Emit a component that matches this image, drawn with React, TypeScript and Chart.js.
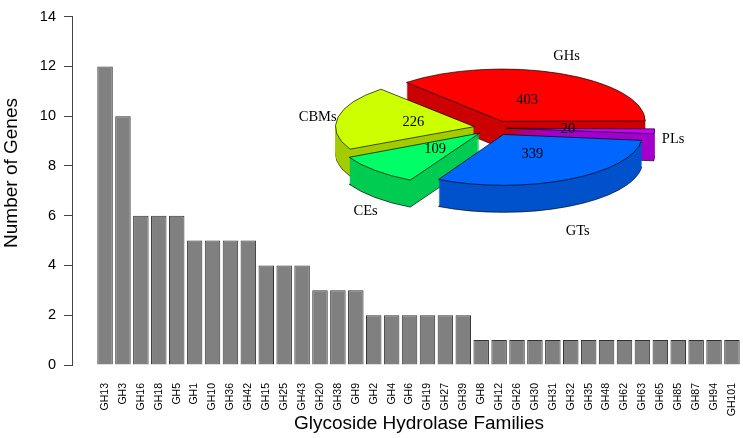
import { useEffect, useRef } from "react";
import { Chart, registerables } from "chart.js";

Chart.register(...registerables);

const families = [
  'GH13', 'GH3', 'GH16', 'GH18', 'GH5', 'GH1', 'GH10', 'GH36', 'GH42',
  'GH15', 'GH25', 'GH43', 'GH20', 'GH38', 'GH9', 'GH2', 'GH4', 'GH6',
  'GH19', 'GH27', 'GH39', 'GH8', 'GH12', 'GH26', 'GH30', 'GH31', 'GH32',
  'GH35', 'GH48', 'GH62', 'GH63', 'GH65', 'GH85', 'GH87', 'GH94', 'GH101'
];
const geneCounts = [
  12, 10, 6, 6, 6, 5, 5, 5, 5,
  4, 4, 4, 3, 3, 3, 2, 2, 2,
  2, 2, 2, 1, 1, 1, 1, 1, 1,
  1, 1, 1, 1, 1, 1, 1, 1, 1
];
const yTicks = [0, 2, 4, 6, 8, 10, 12, 14];

// pie slices, clockwise from 3 o'clock
const pieLabels = ['PLs', 'GTs', 'CEs', 'CBMs', 'GHs'];
const pieValues = [20, 339, 109, 226, 403];
const pieTopColors = ['#CC00FF', '#0066FF', '#00FF66', '#CCFF00', '#FF0000'];
const pieSideColors = ['#A300CC', '#0052CC', '#00CC52', '#A3CC00', '#CC0000'];

const PIE_CY = 128;
const PIE_SQUASH = 0.365;
const PIE_DEPTH = 27;

const yTitle = {
  id: 'yTitle',
  afterDraw(chart: any) {
    const ctx = chart.ctx;
    ctx.save();
    ctx.translate(12, 173);
    ctx.rotate(-Math.PI / 2);
    ctx.font = '19px "Liberation Sans"';
    ctx.fillStyle = '#000';
    ctx.textAlign = 'center';
    ctx.textBaseline = 'middle';
    ctx.fillText('Number of Genes', 0, 0);
    ctx.restore();
  }
};

const midSin = (arc: any) => Math.sin((arc.startAngle + arc.endAngle) / 2);

const pie3d = {
  id: 'pie3d',
  beforeDatasetsDraw(chart: any) {
    const ctx = chart.ctx;
    const arcs = chart.getDatasetMeta(0).data as any[];
    if (!arcs.length) return false;
    const cy = arcs[0].y;
    const order = arcs.map((_, i) => i).sort((a, b) => midSin(arcs[a]) - midSin(arcs[b]));
    const squash = (dy: number) => {
      ctx.translate(0, PIE_CY + dy);
      ctx.scale(1, PIE_SQUASH);
      ctx.translate(0, -cy);
    };
    for (const i of order) {
      const arc = arcs[i];
      const base = arc.options;
      for (let d = PIE_DEPTH; d >= 1; d--) {
        ctx.save();
        squash(d);
        arc.options = {
          ...base,
          backgroundColor: pieSideColors[i],
          borderWidth: d === PIE_DEPTH ? base.borderWidth : 0
        };
        arc.draw(ctx);
        ctx.restore();
      }
      arc.options = base;
      ctx.save();
      squash(0);
      arc.draw(ctx);
      ctx.restore();
    }
    return false;
  },
  afterDraw(chart: any) {
    const ctx = chart.ctx;
    const arcs = chart.getDatasetMeta(0).data as any[];
    ctx.save();
    ctx.font = '14.5px "Liberation Serif"';
    ctx.fillStyle = '#000';
    ctx.textAlign = 'center';
    ctx.textBaseline = 'middle';
    arcs.forEach((arc, i) => {
      const a = (arc.startAngle + arc.endAngle) / 2;
      const c = Math.cos(a);
      const s = Math.sin(a);
      const shift = (arc.options.offset || 0) / 4;
      const R = arc.outerRadius;
      const rv = shift + R * 0.45;
      ctx.fillText(String(pieValues[i]), arc.x + rv * c, PIE_CY + rv * s * PIE_SQUASH);
      const rl = R * 1.3;
      ctx.fillText(pieLabels[i], arc.x + rl * c, PIE_CY + 5 + rl * s * 0.47 + (s > 0 ? PIE_DEPTH * s : 0));
    });
    ctx.restore();
  }
};

const App = () => {
  const barRef = useRef<HTMLCanvasElement | null>(null);
  const pieRef = useRef<HTMLCanvasElement | null>(null);

  useEffect(() => {
    let barChart: Chart | null = null;
    let pieChart: Chart | null = null;

    if (barRef.current) {
      barChart = new Chart(barRef.current, {
        type: 'bar',
        data: {
          datasets: [{
            data: families.map((_, i) => ({ x: i, y: geneCounts[i] })),
            backgroundColor: '#808080',
            borderColor: '#333333',
            borderWidth: 1,
            barPercentage: 0.865,
            categoryPercentage: 1
          }]
        },
        options: {
          animation: false,
          responsive: true,
          maintainAspectRatio: false,
          events: [],
          layout: { padding: { top: 9.5, left: 0, right: 0, bottom: 0 } },
          plugins: { legend: { display: false }, tooltip: { enabled: false } },
          scales: {
            x: {
              type: 'linear',
              offset: false,
              min: -1.845,
              max: 36.9,
              afterBuildTicks: (scale: any) => {
                scale.ticks = families.map((_, i) => ({ value: i }));
              },
              afterFit: (scale: any) => { scale.height = 73; },
              grid: { display: false, drawTicks: false, offset: false },
              border: { display: false },
              ticks: {
                autoSkip: false,
                minRotation: 90,
                maxRotation: 90,
                padding: 18,
                color: '#000',
                font: { family: '"Liberation Sans"', size: 10.5 },
                callback: (v: any) => families[v] ?? ''
              },
              title: {
                display: true,
                text: 'Glycoside Hydrolase Families',
                color: '#000',
                font: { family: '"Liberation Sans"', size: 19 },
                padding: { top: 0, bottom: 3 }
              }
            },
            y: {
              min: 0,
              max: 14,
              afterBuildTicks: (scale: any) => {
                scale.ticks = yTicks.map(v => ({ value: v }));
              },
              afterFit: (scale: any) => { scale.width = 72; },
              grid: { drawOnChartArea: false, drawTicks: true, tickLength: 8, color: '#444' },
              border: { display: true, color: '#444', width: 1 },
              ticks: {
                padding: 8,
                color: '#000',
                font: { family: '"Liberation Sans"', size: 14.5 }
              }
            }
          }
        },
        plugins: [yTitle]
      });
    }

    if (pieRef.current) {
      pieChart = new Chart(pieRef.current, {
        type: 'pie',
        data: {
          labels: pieLabels,
          datasets: [{
            data: pieValues,
            backgroundColor: pieTopColors,
            borderColor: '#000',
            borderWidth: 1,
            offset: [48, 80, 80, 80, 80],
            radius: 138,
            rotation: 90
          } as any]
        },
        options: {
          animation: false,
          responsive: true,
          maintainAspectRatio: false,
          events: [],
          layout: { padding: { left: 245, right: 0, top: 0, bottom: 0 } },
          plugins: { legend: { display: false }, tooltip: { enabled: false } }
        },
        plugins: [pie3d]
      });
    }

    return () => {
      barChart?.destroy();
      pieChart?.destroy();
    };
  }, []);

  return (
    <div style={{ position: 'absolute', left: 0, top: 0, width: 743, height: 438, overflow: 'hidden', background: '#fff' }}>
      <div style={{ position: 'absolute', left: 0, top: 0, width: 766, height: 438 }}>
        <canvas ref={barRef}></canvas>
      </div>
      <div style={{ position: 'absolute', left: 0, top: 0, width: 743, height: 438, pointerEvents: 'none' }}>
        <canvas ref={pieRef}></canvas>
      </div>
    </div>
  );
};

export default App;
